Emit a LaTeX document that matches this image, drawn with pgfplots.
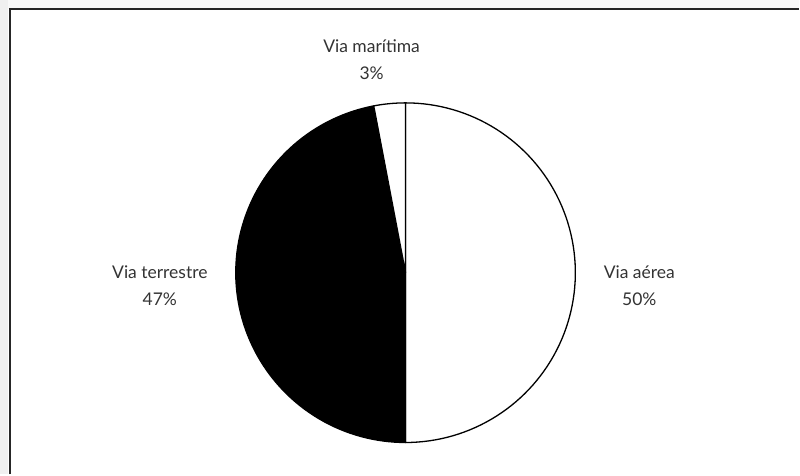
\documentclass[border=0pt]{standalone}
\usepackage{pgfplots}
\pgfplotsset{compat=1.18}
\usepackage{pgfplotstable}
\usepackage{fontspec}
\setmainfont{Lato}

% Share of each transport mode (percent)
\pgfplotstableread{
mode      value
aerea     50
terrestre 47
maritima  3
}\piedata

\pgfplotstablegetelem{0}{value}\of\piedata \let\vAerea\pgfplotsretval
\pgfplotstablegetelem{1}{value}\of\piedata \let\vTerrestre\pgfplotsretval
\pgfplotstablegetelem{2}{value}\of\piedata \let\vMaritima\pgfplotsretval

% Slice boundaries, clockwise from the top
\pgfmathsetmacro{\aA}{90}
\pgfmathsetmacro{\aB}{\aA-3.6*\vAerea}
\pgfmathsetmacro{\aC}{\aB-3.6*\vTerrestre}
\pgfmathsetmacro{\aD}{\aC-3.6*\vMaritima}

\def\cx{406}
\def\cy{202}
\def\rr{170}

\begin{document}
\begin{tikzpicture}[lbl/.style={font=\fontsize{17.5}{27}\selectfont, text=black!80, align=center, inner sep=0pt}]
\begin{axis}[
  width=800pt, height=475pt, scale only axis,
  xmin=0, xmax=800, ymin=0, ymax=475,
  axis lines=none, clip=false,
]
\path[fill=white] (axis cs:0,0) rectangle (axis cs:800,475);
\fill[gray!12] (axis cs:0,0) rectangle (axis cs:8,475);
\fill[gray!5] (axis cs:8,466) rectangle (axis cs:800,475);
\draw[black!85, line width=1.8pt] (axis cs:10,0) -- (axis cs:10,466) -- (axis cs:800,466);

% Via aérea
\addplot[draw=black, fill=white, line width=1.3pt, domain=\aA:\aB, samples=90, variable=\t, line join=round]
  ({\cx+\rr*cos(t)},{\cy+\rr*sin(t)}) -- (axis cs:\cx,\cy) -- cycle;
% Via terrestre
\addplot[draw=black, fill=black, line width=1.3pt, domain=\aB:\aC, samples=90, variable=\t, line join=round]
  ({\cx+\rr*cos(t)},{\cy+\rr*sin(t)}) -- (axis cs:\cx,\cy) -- cycle;
% Via marítima
\addplot[draw=black, fill=white, line width=1.3pt, domain=\aC:\aD, samples=10, variable=\t, line join=round]
  ({\cx+\rr*cos(t)},{\cy+\rr*sin(t)}) -- (axis cs:\cx,\cy) -- cycle;

\node[lbl] at (axis cs:372,415) {Via marítima\\\vMaritima\%};
\node[lbl] at (axis cs:160,189) {Via terrestre\\\vTerrestre\%};
\node[lbl] at (axis cs:640,189) {Via aérea\\\vAerea\%};
\end{axis}
\end{tikzpicture}
\end{document}
